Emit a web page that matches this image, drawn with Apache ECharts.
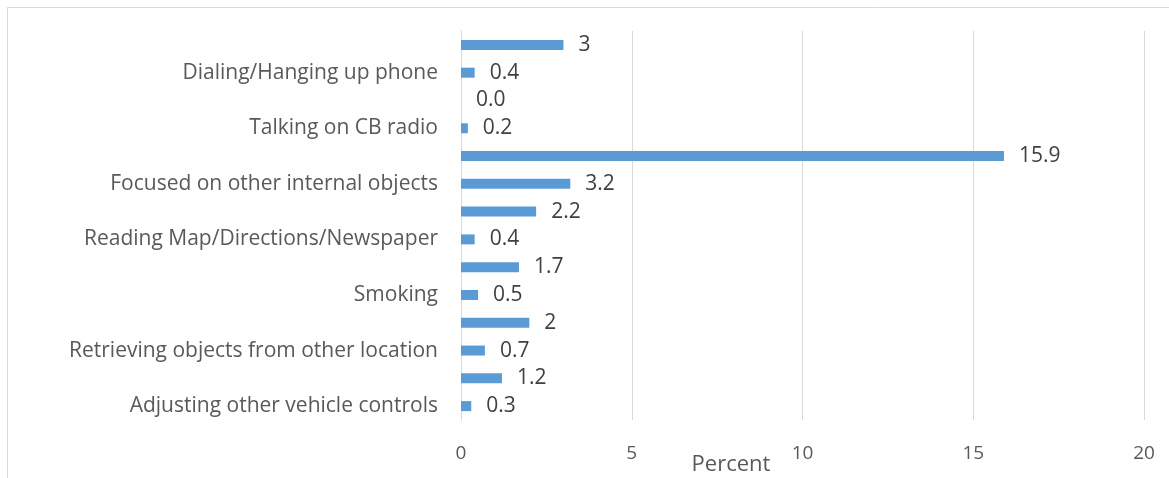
<!DOCTYPE html>
<html>
<head>
<meta charset="utf-8">
<script src="https://cdn.jsdelivr.net/npm/echarts@6/dist/echarts.min.js"></script>
<style>
html,body{margin:0;padding:0;background:#fff;}
#chart{width:1169px;height:478px;}
</style>
</head>
<body>
<div id="chart"></div>
<script>
// Categories from bottom to top (only every other one is labelled in the reference)
const categories = [
  "Adjusting other vehicle controls",
  "Adjusting instrument panel",
  "Retrieving objects from other location",
  "Reaching for object",
  "Smoking",
  "Eating",
  "Reading Map/Directions/Newspaper",
  "Writing",
  "Focused on other internal objects",
  "Looking outside vehicle",
  "Talking on CB radio",
  "Talking on cell phone",
  "Dialing/Hanging up phone",
  "Other"
];
const values = [0.3, 1.2, 0.7, 2, 0.5, 1.7, 0.4, 2.2, 3.2, 15.9, 0.2, 0.0, 0.4, 3];
const valueLabels = ["0.3", "1.2", "0.7", "2", "0.5", "1.7", "0.4", "2.2", "3.2", "15.9", "0.2", "0.0", "0.4", "3"];
const xTicks = [0, 5, 10, 15, 20];

const chart = echarts.init(document.getElementById('chart'), null, {renderer: 'canvas'});
const FONT = "'Open Sans', 'Noto Sans', sans-serif";
chart.setOption({
  animation: false,
  backgroundColor: '#ffffff',
  graphic: [{
    type: 'rect',
    shape: {x: 7.5, y: 7.5, width: 1300, height: 600},
    style: {fill: 'none', stroke: '#d9d9d9', lineWidth: 1},
    silent: true, z: -1
  }],
  grid: {left: 461, right: 25, top: 31, bottom: 58, containLabel: false, outerBoundsMode: 'none'},
  xAxis: {
    type: 'value',
    min: xTicks[0], max: xTicks[xTicks.length - 1], interval: 5,
    name: 'Percent',
    nameLocation: 'middle',
    nameGap: 34,
    nameMoveOverlap: false,
    nameTextStyle: {color: '#595959', fontSize: 22, fontFamily: FONT, padding: [0, 143, 0, 0]},
    axisLine: {show: false},
    axisTick: {show: false},
    axisLabel: {color: '#595959', fontSize: 19, fontFamily: FONT, margin: 24},
    splitLine: {show: true, lineStyle: {color: '#d9d9d9', width: 1}}
  },
  yAxis: {
    type: 'category',
    data: categories,
    axisLine: {show: true, lineStyle: {color: '#d9d9d9', width: 1}},
    axisTick: {show: false},
    axisLabel: {interval: 1, color: '#595959', fontSize: 21, fontFamily: FONT, margin: 23},
    splitLine: {show: false}
  },
  series: [{
    type: 'bar',
    data: values,
    barWidth: 10,
    itemStyle: {color: '#5b9bd5'},
    label: {
      show: true,
      position: 'right',
      distance: 15,
      color: '#404040',
      fontSize: 21,
      fontFamily: FONT,
      formatter: p => valueLabels[p.dataIndex]
    }
  }]
});
</script>
</body>
</html>
